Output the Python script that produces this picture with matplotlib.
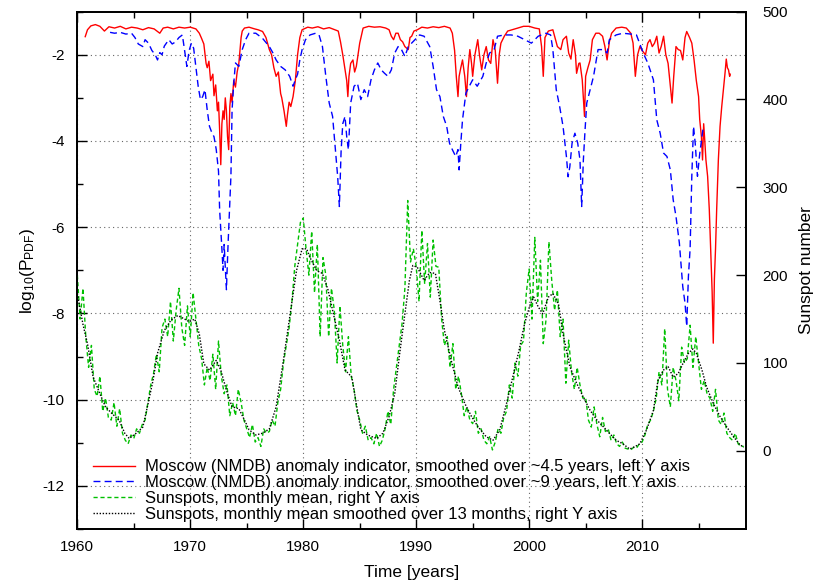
import numpy as np
import matplotlib
matplotlib.use("Agg")
import matplotlib.pyplot as plt
from matplotlib.ticker import MultipleLocator

plt.rcParams['font.family'] = ['Liberation Sans', 'DejaVu Sans']
plt.rcParams['font.size'] = 11
plt.rcParams['mathtext.default'] = 'regular'

# Moscow (NMDB) anomaly indicator, ~4.5 yr smoothing: (year, log10 P)
red_pts = [
    (1960.7, -1.58), (1960.9, -1.42), (1961.2, -1.33), (1961.6, -1.30), (1962.0, -1.34),
    (1962.4, -1.45), (1962.8, -1.35), (1963.3, -1.38), (1963.8, -1.34), (1964.3, -1.40),
    (1964.8, -1.36), (1965.3, -1.38), (1965.8, -1.42), (1966.3, -1.37), (1966.8, -1.40),
    (1967.3, -1.50), (1967.6, -1.38), (1968.0, -1.36), (1968.5, -1.40), (1969.0, -1.36),
    (1969.5, -1.38), (1970.0, -1.36), (1970.5, -1.40), (1970.8, -1.50), (1971.0, -1.62),
    (1971.2, -1.75), (1971.4, -2.20), (1971.5, -2.30), (1971.65, -2.15), (1971.8, -2.60),
    (1972.0, -2.45), (1972.1, -2.95), (1972.25, -2.70), (1972.4, -3.30), (1972.5, -3.10),
    (1972.6, -3.75), (1972.7, -4.55), (1972.8, -3.60), (1972.9, -3.30), (1973.0, -3.50),
    (1973.1, -3.00), (1973.2, -3.30), (1973.3, -3.90), (1973.4, -4.20), (1973.5, -3.20),
    (1973.6, -2.90), (1973.7, -3.10), (1973.85, -2.60), (1974.0, -2.75), (1974.15, -2.40),
    (1974.3, -2.20), (1974.4, -1.90), (1974.5, -1.60), (1974.6, -1.45), (1974.8, -1.38),
    (1975.2, -1.36), (1975.7, -1.40), (1976.0, -1.42), (1976.4, -1.46), (1976.7, -1.60),
    (1977.0, -1.88), (1977.2, -2.00), (1977.4, -2.30), (1977.6, -2.50), (1977.8, -2.40),
    (1978.0, -2.90), (1978.1, -3.00), (1978.3, -3.30), (1978.5, -3.66), (1978.6, -3.40),
    (1978.75, -3.10), (1978.9, -3.20), (1979.1, -2.97), (1979.3, -2.60), (1979.5, -2.00),
    (1979.7, -1.60), (1979.9, -1.42), (1980.4, -1.36), (1980.8, -1.38), (1981.3, -1.35),
    (1981.8, -1.40), (1982.3, -1.37), (1982.8, -1.42), (1983.1, -1.45), (1983.3, -1.70),
    (1983.5, -2.00), (1983.7, -2.35), (1983.85, -2.60), (1983.95, -2.97), (1984.05, -2.50),
    (1984.2, -2.20), (1984.4, -2.12), (1984.55, -2.40), (1984.7, -2.27), (1984.85, -2.00),
    (1985.0, -1.73), (1985.2, -1.50), (1985.3, -1.38), (1985.8, -1.34), (1986.3, -1.36),
    (1986.8, -1.35), (1987.3, -1.38), (1987.6, -1.42), (1987.8, -1.57), (1988.0, -1.65),
    (1988.2, -1.50), (1988.4, -1.50), (1988.6, -1.65), (1988.8, -1.70), (1989.0, -1.81),
    (1989.3, -1.88), (1989.45, -1.60), (1989.6, -1.57), (1989.8, -1.45), (1990.1, -1.42),
    (1990.5, -1.36), (1991.0, -1.38), (1991.5, -1.35), (1992.0, -1.37), (1992.5, -1.34),
    (1993.0, -1.38), (1993.2, -1.50), (1993.4, -1.90), (1993.55, -2.50), (1993.7, -2.97),
    (1993.8, -2.50), (1993.95, -2.30), (1994.1, -2.12), (1994.3, -2.50), (1994.45, -2.97),
    (1994.6, -2.30), (1994.75, -1.88), (1994.9, -2.20), (1995.0, -2.50), (1995.2, -2.00),
    (1995.45, -1.65), (1995.6, -2.00), (1995.8, -2.35), (1996.0, -2.00), (1996.2, -1.81),
    (1996.4, -2.12), (1996.6, -2.20), (1996.8, -1.65), (1997.0, -1.90), (1997.2, -2.66),
    (1997.35, -2.00), (1997.5, -1.73), (1997.8, -1.57), (1998.1, -1.45), (1998.5, -1.42),
    (1999.0, -1.38), (1999.5, -1.34), (2000.0, -1.34), (2000.5, -1.38), (2000.9, -1.40),
    (2001.1, -1.81), (2001.25, -2.50), (2001.4, -1.60), (2001.7, -1.45), (2002.1, -1.42),
    (2002.5, -1.81), (2002.8, -1.88), (2003.0, -1.65), (2003.3, -1.57), (2003.5, -1.96),
    (2003.7, -2.10), (2003.9, -1.65), (2004.1, -2.00), (2004.2, -2.43), (2004.4, -2.20),
    (2004.5, -2.19), (2004.7, -2.58), (2004.9, -3.43), (2005.0, -2.50), (2005.2, -2.30),
    (2005.4, -2.12), (2005.6, -1.65), (2005.9, -1.50), (2006.2, -1.50), (2006.5, -1.57),
    (2006.7, -1.80), (2006.9, -2.12), (2007.1, -1.70), (2007.3, -1.50), (2007.7, -1.38),
    (2008.2, -1.36), (2008.6, -1.38), (2009.0, -1.50), (2009.2, -1.73), (2009.4, -2.50),
    (2009.6, -2.00), (2009.8, -1.81), (2010.0, -1.90), (2010.3, -2.00), (2010.5, -1.73),
    (2010.7, -1.65), (2010.9, -1.81), (2011.1, -1.73), (2011.3, -1.57), (2011.5, -1.96),
    (2011.7, -1.80), (2011.9, -1.57), (2012.1, -2.00), (2012.3, -2.20), (2012.5, -2.73),
    (2012.65, -3.12), (2012.8, -2.50), (2013.0, -1.81), (2013.2, -1.88), (2013.4, -1.90),
    (2013.6, -2.12), (2013.8, -1.60), (2013.95, -1.46), (2014.2, -1.60), (2014.4, -1.73),
    (2014.6, -2.12), (2014.8, -2.60), (2015.0, -2.97), (2015.1, -3.50), (2015.25, -3.90),
    (2015.35, -4.44), (2015.45, -3.60), (2015.55, -4.00), (2015.65, -4.44), (2015.8, -4.82),
    (2015.95, -5.60), (2016.1, -6.76), (2016.2, -7.50), (2016.3, -8.69), (2016.4, -7.20),
    (2016.5, -6.50), (2016.6, -5.60), (2016.75, -4.44), (2016.9, -3.66), (2017.05, -3.20),
    (2017.2, -2.81), (2017.35, -2.40), (2017.45, -2.10), (2017.55, -2.30), (2017.65, -2.35),
    (2017.75, -2.50), (2017.8, -2.45),
]

# Moscow (NMDB) anomaly indicator, ~9 yr smoothing: (year, log10 P)
blue_pts = [
    (1962.9, -1.48), (1963.3, -1.50), (1963.8, -1.48), (1964.3, -1.52), (1964.8, -1.50),
    (1965.1, -1.60), (1965.4, -1.75), (1965.8, -1.81), (1966.0, -1.65), (1966.3, -1.73),
    (1966.6, -1.90), (1966.9, -2.00), (1967.1, -2.12), (1967.3, -1.95), (1967.5, -2.00),
    (1967.7, -1.80), (1968.1, -1.65), (1968.4, -1.75), (1968.7, -1.70), (1969.0, -1.60),
    (1969.3, -1.54), (1969.5, -1.90), (1969.7, -2.27), (1969.9, -1.90), (1970.1, -1.73),
    (1970.3, -1.85), (1970.5, -2.30), (1970.7, -2.73), (1970.9, -3.04), (1971.1, -2.97),
    (1971.3, -2.81), (1971.5, -3.28), (1971.7, -3.66), (1971.9, -3.80), (1972.1, -3.90),
    (1972.3, -4.20), (1972.5, -4.70), (1972.6, -5.60), (1972.8, -6.50), (1972.9, -7.00),
    (1973.0, -6.40), (1973.2, -7.45), (1973.35, -6.37), (1973.5, -5.44), (1973.6, -4.80),
    (1973.7, -3.28), (1973.85, -2.66), (1974.0, -2.19), (1974.3, -2.27), (1974.6, -1.88),
    (1974.9, -1.65), (1975.2, -1.50), (1975.8, -1.50), (1976.4, -1.62), (1977.0, -1.81),
    (1977.3, -1.95), (1977.6, -2.12), (1978.0, -2.27), (1978.4, -2.35), (1978.8, -2.50),
    (1979.1, -2.73), (1979.3, -2.58), (1979.5, -2.45), (1979.7, -2.12), (1979.9, -1.88),
    (1980.2, -1.65), (1980.6, -1.54), (1981.1, -1.50), (1981.4, -1.54), (1981.7, -1.81),
    (1982.0, -2.50), (1982.3, -3.12), (1982.6, -3.43), (1982.9, -4.36), (1983.05, -4.83),
    (1983.2, -5.52), (1983.35, -4.25), (1983.5, -3.60), (1983.7, -3.43), (1983.85, -3.90),
    (1984.0, -4.20), (1984.2, -3.12), (1984.5, -2.73), (1984.8, -2.66), (1985.1, -3.04),
    (1985.4, -2.81), (1985.7, -2.97), (1986.0, -2.58), (1986.3, -2.35), (1986.6, -2.19),
    (1986.9, -2.35), (1987.2, -2.43), (1987.5, -2.50), (1987.8, -2.35), (1988.1, -1.96),
    (1988.4, -1.81), (1988.7, -1.88), (1989.0, -2.04), (1989.3, -1.81), (1989.6, -1.73),
    (1989.9, -1.65), (1990.3, -1.54), (1990.7, -1.57), (1991.2, -1.81), (1991.5, -2.27),
    (1991.8, -2.81), (1992.1, -2.97), (1992.4, -3.43), (1992.7, -3.66), (1992.95, -4.05),
    (1993.2, -4.20), (1993.5, -4.36), (1993.7, -4.20), (1993.8, -4.67), (1993.95, -4.05),
    (1994.1, -3.51), (1994.4, -2.89), (1994.7, -2.73), (1995.0, -2.58), (1995.4, -2.73),
    (1995.9, -2.50), (1996.2, -2.19), (1996.5, -1.96), (1996.9, -1.88), (1997.2, -1.57),
    (1997.8, -1.54), (1998.4, -1.54), (1999.0, -1.57), (1999.6, -1.65), (2000.2, -1.73),
    (2000.8, -1.57), (2001.5, -1.50), (2001.9, -1.54), (2002.1, -1.88), (2002.4, -2.81),
    (2002.7, -3.20), (2003.0, -3.66), (2003.3, -4.36), (2003.45, -4.83), (2003.6, -4.60),
    (2003.8, -4.05), (2004.05, -3.82), (2004.3, -4.05), (2004.5, -4.44), (2004.65, -5.52),
    (2004.8, -4.44), (2004.95, -3.74), (2005.1, -3.12), (2005.4, -2.81), (2005.7, -2.50),
    (2006.1, -1.88), (2006.6, -1.88), (2006.9, -1.96), (2007.1, -1.65), (2007.7, -1.54),
    (2008.3, -1.50), (2009.0, -1.52), (2009.5, -1.54), (2010.1, -1.96), (2010.5, -2.19),
    (2011.0, -2.58), (2011.3, -3.51), (2011.6, -3.82), (2011.9, -4.28), (2012.2, -4.36),
    (2012.5, -4.67), (2012.75, -5.36), (2013.0, -5.75), (2013.3, -6.37), (2013.6, -7.38),
    (2013.8, -7.76), (2013.95, -8.30), (2014.1, -7.14), (2014.25, -6.50), (2014.4, -4.82),
    (2014.55, -3.66), (2014.7, -4.05), (2014.9, -4.82), (2015.1, -4.30), (2015.3, -3.90),
    (2015.4, -3.70),
]

# monthly mean sunspot number, read every quarter from 1960.0
sunspot_start = 1960.0
sunspot_step = 0.25
sunspots = [
    200, 150, 185, 130,  95, 120, 70, 62,   85, 45, 60, 38,   35, 55, 28, 48,
    20, 12, 8, 18,       14, 25, 20, 30,    35, 55, 75, 88,   110, 90, 140, 150,
    130, 170, 125, 160,  185, 140, 120, 165, 130, 180, 150, 120, 105, 75, 95, 80,
    110, 70, 125, 85,    65, 75, 40, 55,    40, 70, 55, 35,   25, 15, 30, 10,
    15, 5, 25, 20,       22, 35, 28, 55,    70, 100, 120, 140, 170, 210, 235, 260,
    265, 230, 200, 250,  180, 235, 130, 220, 200, 130, 185, 160, 100, 165, 120, 90,
    130, 85, 70, 46,     35, 20, 28, 12,    15, 8, 20, 5,     12, 25, 45, 30,
    70, 95, 120, 145,    185, 285, 215, 230, 210, 170, 251, 190, 236, 175, 240, 210,
    209, 150, 120, 130,  95, 122, 70, 85,   65, 40, 50, 35,   31, 45, 20, 25,
    12, 8, 16, 1,        10, 25, 20, 38,    45, 75, 60, 100,  85, 120, 125, 180,
    207, 150, 243, 170,  217, 122, 150, 238, 194, 160, 183, 130, 150, 77, 126, 90,
    70, 95, 75, 60,      61, 35, 27, 50,    30, 16, 38, 22,   25, 12, 18, 8,
    5, 10, 3, 2,         1, 4, 3, 8,        10, 18, 30, 35,   45, 60, 90, 75,
    139, 70, 50, 95,     80, 57, 118, 100,  105, 143, 95, 130, 100, 70, 80, 65,
    60, 45, 70, 35,      30, 43, 20, 15,    12, 20, 8, 5,     5,
]

# 13-month smoothed sunspot number: (year, value)
smooth_pts = [
    (1960.0, 179), (1960.5, 144), (1960.9, 122), (1961.4, 84), (1962.0, 65),
    (1962.5, 50), (1963.1, 42), (1963.7, 35), (1964.2, 20), (1964.6, 14),
    (1965.2, 20), (1965.8, 27), (1966.2, 50), (1966.7, 80), (1967.1, 111),
    (1967.7, 137), (1968.3, 149), (1968.9, 154), (1969.5, 150), (1969.9, 147),
    (1970.4, 150), (1970.8, 133), (1971.2, 99), (1971.7, 92), (1972.3, 103),
    (1972.7, 92), (1973.2, 69), (1973.7, 50), (1974.3, 48), (1974.8, 35),
    (1975.2, 24), (1975.8, 18), (1976.4, 20), (1977.0, 25), (1977.6, 50),
    (1978.2, 99), (1978.8, 152), (1979.4, 205), (1979.9, 230), (1980.3, 230),
    (1980.6, 220), (1981.2, 205), (1981.7, 202), (1982.2, 183), (1982.6, 160),
    (1983.2, 126), (1983.7, 92), (1984.3, 84), (1984.8, 46), (1985.1, 24),
    (1985.7, 18), (1986.5, 14), (1987.05, 20), (1987.6, 39), (1988.1, 65),
    (1988.5, 107), (1989.0, 156), (1989.4, 194), (1989.7, 211), (1990.1, 209),
    (1990.7, 194), (1991.2, 203), (1991.7, 202), (1992.1, 171), (1992.5, 137),
    (1993.1, 103), (1993.7, 73), (1994.3, 54), (1994.9, 39), (1995.5, 27),
    (1996.2, 16), (1996.8, 12), (1997.4, 24), (1998.0, 54), (1998.55, 84),
    (1999.1, 114), (1999.6, 145), (2000.1, 167), (2000.4, 175), (2000.8, 164),
    (2001.2, 156), (2001.7, 175), (2002.1, 179), (2002.6, 167), (2003.0, 133),
    (2003.6, 96), (2004.2, 77), (2004.8, 61), (2005.4, 46), (2006.0, 35),
    (2006.6, 27), (2007.1, 20), (2007.7, 12), (2008.3, 8), (2008.9, 2),
    (2009.4, 5), (2009.8, 8), (2010.4, 24), (2011.0, 46), (2011.4, 80),
    (2011.9, 92), (2012.3, 96), (2012.75, 84), (2013.2, 88), (2013.6, 99),
    (2014.1, 111), (2014.5, 116), (2014.8, 111), (2015.3, 92), (2015.7, 73),
    (2016.3, 54), (2016.9, 39), (2017.5, 27), (2018.1, 16), (2018.65, 7),
    (2019.0, 4),
]

red_t, red_v = np.array(red_pts).T
blue_t, blue_v = np.array(blue_pts).T
smooth_t, smooth_v = np.array(smooth_pts).T
ss_t = sunspot_start + sunspot_step * np.arange(len(sunspots))

fig = plt.figure(figsize=(8.19, 5.86), dpi=100)
ax = fig.add_axes([0.0944, 0.0973, 0.8165, 0.8828])
ax2 = ax.twinx()

l1, = ax.plot(red_t, red_v, color='#ff0000', lw=1.0,
              label='Moscow (NMDB) anomaly indicator, smoothed over ~4.5 years, left Y axis')
l2, = ax.plot(blue_t, blue_v, color='#0000ff', lw=1.0, ls=(0, (5, 3)),
              label='Moscow (NMDB) anomaly indicator, smoothed over ~9 years, left Y axis')
l3, = ax2.plot(ss_t, sunspots, color='#00c000', lw=1.0, ls=(0, (3, 2)),
               label='Sunspots, monthly mean, right Y axis')
l4, = ax2.plot(smooth_t, smooth_v, color='black', lw=1.0, ls=(0, (1, 1.2)),
               label='Sunspots, monthly mean smoothed over 13 months, right Y axis')

ax.set_xlim(1960, 2019.2)
ax.set_ylim(-13, -1)
ax2.set_ylim(-89, 500)

ax.xaxis.set_major_locator(MultipleLocator(10))
ax.xaxis.set_minor_locator(MultipleLocator(5))
ax.set_yticks([-2, -4, -6, -8, -10, -12])
ax.yaxis.set_minor_locator(MultipleLocator(1))
ax.set_yticklabels(['-2', '-4', '-6', '-8', '-10', '-12'])
ax2.set_yticks([0, 100, 200, 300, 400, 500])

ax.tick_params(which='both', direction='in', top=True, right=False, width=1.0)
ax.tick_params(which='major', length=7)
ax.tick_params(which='minor', length=4)
ax.tick_params(axis='x', pad=8)
ax.tick_params(axis='y', pad=9)
ax2.tick_params(which='both', direction='in', left=False, width=1.0, length=7, pad=12)

for a in (ax, ax2):
    for s in a.spines.values():
        s.set_linewidth(1.3)

ax.grid(True, which='major', color='0.4', ls=(0, (1, 3)), lw=0.8)

ax.set_xlabel('Time [years]', fontsize=12.5, labelpad=8)
ax.set_ylabel(r'log$_{10}$(P$_{PDF}$)', fontsize=12.5, labelpad=4)
ax2.set_ylabel('Sunspot number', fontsize=12.5, labelpad=8)

leg = ax2.legend(handles=[l1, l2, l3, l4], loc='lower left',
                 bbox_to_anchor=(0.0235, 0.0135), frameon=False,
                 borderpad=0, borderaxespad=0, handlelength=2.5,
                 handletextpad=0.6, labelspacing=0.05, fontsize=12)

fig.savefig('out.png', dpi=100)
